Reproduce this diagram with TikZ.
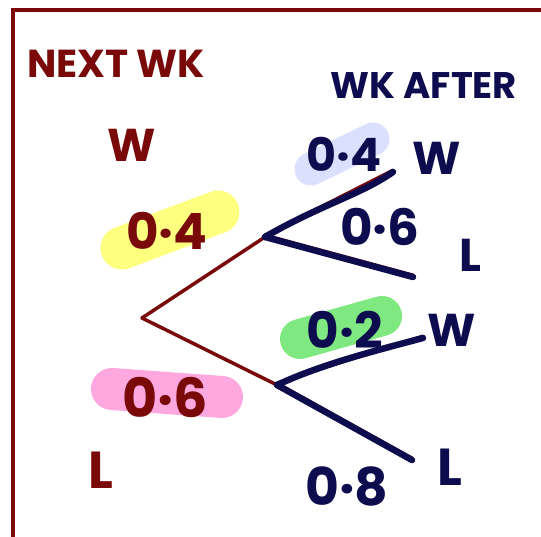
\documentclass[tikz,border=0pt]{standalone}
\usepackage{fontspec}
\setmainfont{Poppins}
\definecolor{ink}{HTML}{7A0A0A}
\definecolor{navy}{HTML}{0C0C4E}
\definecolor{hlyellow}{HTML}{FFFF80}
\definecolor{hlpink}{HTML}{FFA8E0}
\definecolor{hllav}{HTML}{DCE0FF}
\definecolor{hlgreen}{HTML}{80E880}
\tikzset{
  frame/.style={draw=ink, line width=3.5pt},
  hl/.style={line cap=round, line width=#1},
  redbranch/.style={draw=ink, line width=3.5pt, line cap=round},
  bluebranch/.style={draw=navy, line width=6.5pt, line cap=round},
  redtxt/.style={text=ink, font=\bfseries\fontsize{#1}{#1}\selectfont, inner sep=0pt},
  bluetxt/.style={text=navy, font=\bfseries\fontsize{#1}{#1}\selectfont, inner sep=0pt},
}
\begin{document}
\begin{tikzpicture}[x=1pt, y=-1pt]
\useasboundingbox (0,0) rectangle (541,537);

% border of the sheet
\draw[frame] (13,537) -- (13,10) -- (541,10);

% highlighter strokes behind the probabilities
\draw[hlyellow, hl=43pt] (122,248) -- (218,212);
\draw[hlpink, hl=42pt] (112,389) -- (222,397);
\draw[hllav, hl=33pt] (311,169) -- (373,139);
\draw[hlgreen, hl=40pt] (300,339) -- (382,316);

% tree points
\coordinate (root) at (142,318);
\coordinate (up) at (265,237);
\coordinate (lo) at (277,385);
\coordinate (uw) at (393,172);
\coordinate (ul) at (413,277);
\coordinate (lw) at (423,338);
\coordinate (ll) at (412,460);

% first stage (next week)
\draw[redbranch] (root) -- (up);
\draw[redbranch] (root) -- (lo);
% red strokes showing under the second stage
\draw[redbranch, line width=3pt] ([yshift=2pt]up) -- ([yshift=2pt]uw);
\draw[redbranch, line width=3pt] ([yshift=2pt]up) -- ([yshift=2pt]ul);
\draw[redbranch, line width=3pt] ([yshift=2pt]lo) -- ([yshift=2pt]lw);
\draw[redbranch, line width=3pt] ([yshift=2pt]lo) -- ([yshift=2pt]ll);

% second stage (week after)
\draw[bluebranch] (up) .. controls (320,205) and (360,195) .. (uw);
\draw[bluebranch] (up) -- (ul);
\draw[bluebranch] (lo) .. controls (320,365) and (370,352) .. (lw);
\draw[bluebranch] (lo) -- (ll);

% headings
\node[redtxt=39pt] (h1) at (116,64) {NEXT WK};
\node[bluetxt=37pt] (h2) at (424,86) {WK AFTER};

% outcomes
\node[redtxt=46pt] (w1) at (132,145) {W};
\node[redtxt=52pt] (l1) at (101,470) {L};
\node[bluetxt=46pt] (w2) at (437,158) {W};
\node[bluetxt=46pt] (l2) at (470,255) {L};
\node[bluetxt=46pt] (w3) at (452,330) {W};
\node[bluetxt=52pt] (l3) at (450,467) {L};

% probabilities
\node[redtxt=50pt] (p1) at (167,231) {0·4};
\node[redtxt=54pt] (p2) at (165,397) {0·6};
\node[bluetxt=46pt] (p3) at (344,154) {0·4};
\node[bluetxt=50pt] (p4) at (380,227) {0·6};
\node[bluetxt=50pt] (p5) at (345,330) {0·2};
\node[bluetxt=52pt] (p6) at (347,486) {0·8};
\end{tikzpicture}
\end{document}
